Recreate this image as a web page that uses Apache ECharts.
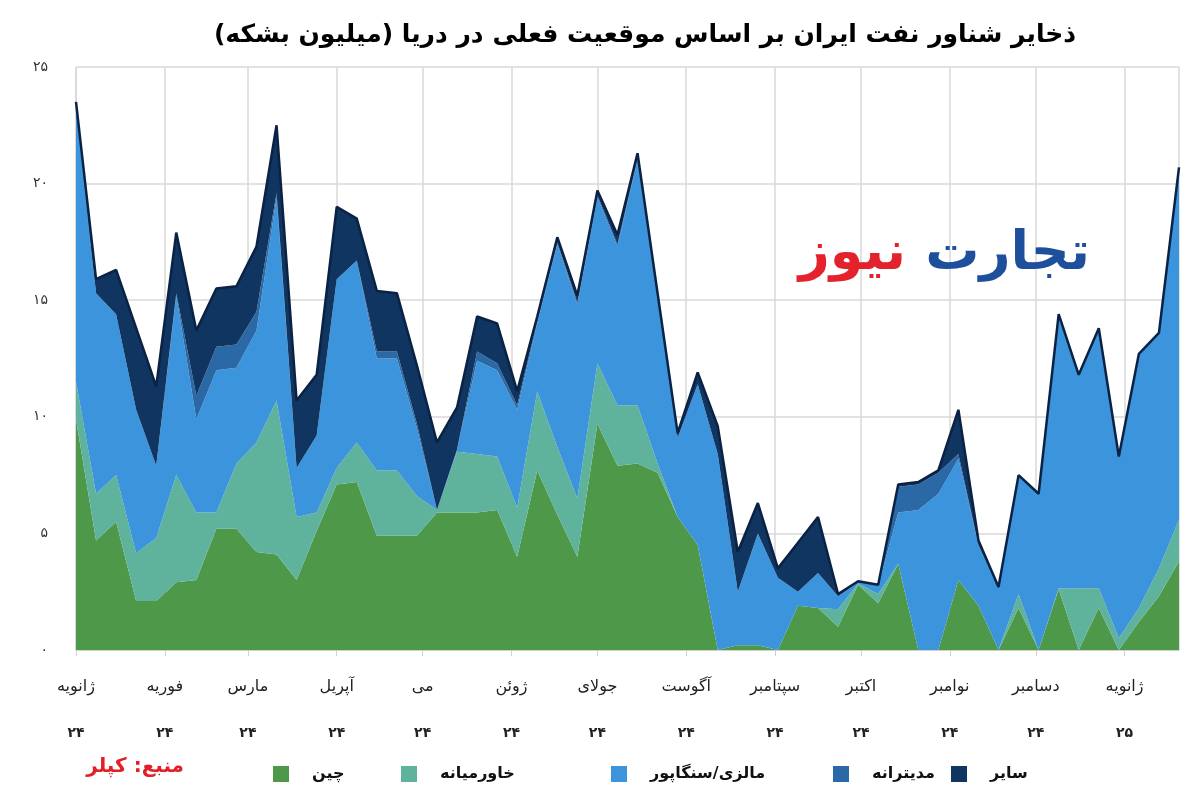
<!DOCTYPE html>
<html dir="rtl">
<head>
<meta charset="utf-8">
<script src="https://cdn.jsdelivr.net/npm/echarts@6/dist/echarts.min.js"></script>
<style>
html,body{margin:0;padding:0;background:#fff;}
#chart{width:1200px;height:800px;}
</style>
</head>
<body>
<div id="chart"></div>
<script>
// Weekly dates
const dates = [
 '2024-01-01','2024-01-08','2024-01-15','2024-01-22','2024-01-29',
 '2024-02-05','2024-02-12','2024-02-19','2024-02-26',
 '2024-03-04','2024-03-11','2024-03-18','2024-03-25',
 '2024-04-01','2024-04-08','2024-04-15','2024-04-22','2024-04-29',
 '2024-05-06','2024-05-13','2024-05-20','2024-05-27',
 '2024-06-03','2024-06-10','2024-06-17','2024-06-24',
 '2024-07-01','2024-07-08','2024-07-15','2024-07-22','2024-07-29',
 '2024-08-05','2024-08-12','2024-08-19','2024-08-26',
 '2024-09-02','2024-09-09','2024-09-16','2024-09-23','2024-09-30',
 '2024-10-07','2024-10-14','2024-10-21','2024-10-28',
 '2024-11-04','2024-11-11','2024-11-18','2024-11-25',
 '2024-12-02','2024-12-09','2024-12-16','2024-12-23','2024-12-30',
 '2025-01-06','2025-01-13','2025-01-20'
];
// Series values (million barrels)
const china = [9.9,4.7,5.5,2.1,2.1,2.9,3.0,5.2,5.2,4.2,4.1,3.0,5.1,7.1,7.2,4.9,4.9,4.9,5.9,5.9,5.9,6.0,4.0,7.7,5.8,4.0,9.7,7.9,8.0,7.6,5.7,4.5,0,0.2,0.2,0,1.9,1.8,1.0,2.8,2.0,3.7,0,0,3.0,1.9,0,1.8,0,2.6,0,1.8,0,1.2,2.3,3.8];
const middleEast = [1.6,2.0,2.0,2.05,2.7,4.6,2.9,0.7,2.8,4.7,6.6,2.7,0.8,0.7,1.7,2.8,2.8,1.7,0.1,2.6,2.5,2.3,2.1,3.4,2.9,2.5,2.6,2.6,2.5,0.4,0,0,0,0,0,0,0,0,0.75,0.05,0.4,0,0,0,0,0,0,0.6,0,0.05,2.65,0.85,0.5,0.6,1.2,1.8];
const malaysiaSingapore = [11.8,8.6,6.9,6.15,3.1,7.7,4.0,6.1,4.1,4.8,8.7,2.1,3.3,8.1,7.8,4.8,4.8,2.9,0,0.1,4.0,3.7,4.2,2.9,8.7,8.3,7.1,6.8,10.5,7.1,3.4,6.9,8.4,2.3,4.8,3.1,0.6,1.5,0.55,0.05,0.35,2.2,6.0,6.7,5.2,2.6,2.65,5.05,6.7,11.75,9.15,11.15,7.8,10.9,10.1,15.1];
const mediterranean = [0,0,0,0,0,0.1,1.0,1.0,1.0,0.8,0.2,0,0,0,0,0.3,0.3,0.2,0,0,0.4,0.3,0.2,0.1,0.1,0.1,0.1,0.1,0.1,0,0,0,0,0,0,0,0,0,0,0,0,1.1,1.1,0.9,0.2,0,0,0,0,0,0,0,0,0,0,0];
const other = [0.2,0.6,1.9,3.5,3.4,2.6,2.8,2.5,2.5,2.8,2.9,2.9,2.6,3.1,1.8,2.6,2.5,2.5,2.9,1.8,1.5,1.7,0.6,0.2,0.2,0.3,0.2,0.4,0.2,0.2,0.2,0.5,1.2,1.7,1.3,0.4,2.1,2.4,0.1,0.05,0.05,0.1,0.1,0.1,1.9,0.2,0.05,0.05,0,0,0,0,0,0,0,0];

const seriesNames = ['چین','خاورمیانه','مالزی/سنگاپور','مدیترانه','سایر'];
const seriesColors = ['#4e9849','#5fb29c','#3c95dc','#2b69a6','#0f3560'];
// Tick labels (month starts Jan 2024 .. Jan 2025)
const tickMonths = ['ژانویه','فوریه','مارس','آپریل','می','ژوئن','جولای','آگوست','سپتامبر','اکتبر','نوامبر','دسامبر','ژانویه'];
const tickYears = ['۲۴','۲۴','۲۴','۲۴','۲۴','۲۴','۲۴','۲۴','۲۴','۲۴','۲۴','۲۴','۲۵'];
const persianDigits = ['۰','۱','۲','۳','۴','۵','۶','۷','۸','۹'];
const toFa = s => String(s).replace(/[0-9]/g, d => persianDigits[+d]);

const FONT = 'DejaVu Sans';
const valuesList = [china, middleEast, malaysiaSingapore, mediterranean, other];
const legendLeft = [268, 396, 606, 828, 946];

const series = valuesList.map((vals, k) => ({
  name: seriesNames[k],
  type: 'line',
  stack: 'total',
  symbol: 'none',
  smooth: false,
  data: dates.map((d, i) => [d, vals[i]]),
  areaStyle: { color: seriesColors[k], opacity: 1 },
  lineStyle: k === 4 ? { color: '#0a2244', width: 2.5 } : { width: 0, opacity: 0 },
  itemStyle: { color: seriesColors[k] },
  emphasis: { disabled: true },
  z: 2 + k
}));

const chart = echarts.init(document.getElementById('chart'), null, { renderer: 'canvas' });
chart.setOption({
  animation: false,
  backgroundColor: '#ffffff',
  title: {
    text: 'ذخایر شناور نفت ایران بر اساس موقعیت فعلی در دریا (میلیون بشکه)',
    left: 640, top: 18, textAlign: 'center',
    textStyle: { fontFamily: FONT, fontWeight: 'bold', fontSize: 25, color: '#000' }
  },
  grid: { left: 76, right: 21, top: 67, bottom: 150, containLabel: false },
  xAxis: {
    type: 'time',
    min: '2024-01-01', max: '2025-01-20',
    minInterval: 28 * 86400000, maxInterval: 31 * 86400000,
    splitNumber: 13,
    axisLine: { show: true, lineStyle: { color: '#d0d0d0', width: 1 } },
    axisTick: { show: true, length: 6, lineStyle: { color: '#d0d0d0' } },
    splitLine: { show: true, lineStyle: { color: '#d9d9d9', width: 1.5 } },
    axisLabel: {
      margin: 14,
      hideOverlap: false,
      formatter: function (val) {
        const d = new Date(val);
        const idx = (d.getFullYear() - 2024) * 12 + d.getMonth();
        if (idx < 0 || idx >= tickMonths.length) return '';
        return '{m|' + tickMonths[idx] + '}\n{y|' + tickYears[idx] + '}';
      },
      rich: {
        m: { fontFamily: FONT, fontSize: 16, color: '#222', lineHeight: 46 },
        y: { fontFamily: FONT, fontSize: 14, fontWeight: 'bold', color: '#222', lineHeight: 46 }
      }
    }
  },
  yAxis: {
    type: 'value', min: 0, max: 25, interval: 5,
    axisLine: { show: false }, axisTick: { show: false },
    splitLine: { show: true, lineStyle: { color: '#d9d9d9', width: 1.5 } },
    axisLabel: { formatter: v => toFa(v), fontFamily: FONT, fontSize: 14, color: '#333', margin: 28 }
  },
  legend: seriesNames.map((n, k) => ({
    data: [n], left: legendLeft[k], top: 761, orient: 'horizontal',
    icon: 'rect', itemWidth: 16, itemHeight: 16, selectedMode: false,
    textStyle: { fontFamily: FONT, fontWeight: 'bold', fontSize: 16, color: '#111', padding: [0, 0, 0, 18] }
  })),
  graphic: [
    { type: 'text', right: 1200 - 1090, top: 228, z: 10,
      style: { text: 'تجارت', font: 'bold 54px "DejaVu Sans"', fill: '#1d4f9c' } },
    { type: 'text', right: 1200 - 906, top: 228, z: 10,
      style: { text: 'نیوز', font: 'bold 54px "DejaVu Sans"', fill: '#e4222b' } },
    { type: 'text', right: 1200 - 184, top: 757, z: 10,
      style: { text: 'منبع: کپلر', font: 'bold 20px "DejaVu Sans"', fill: '#e31e24' } }
  ],
  series: series
});
</script>
</body>
</html>
